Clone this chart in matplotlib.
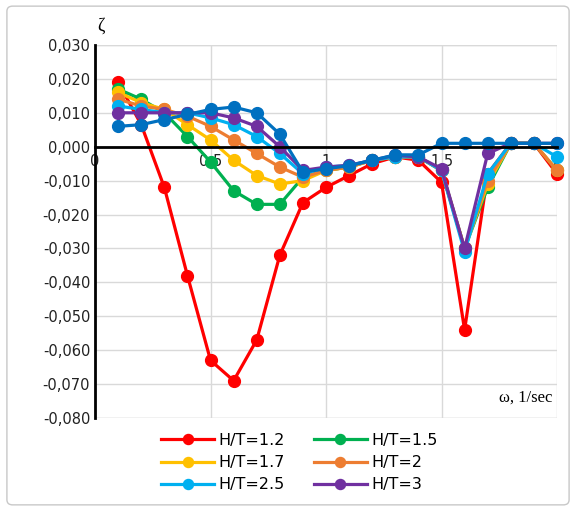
import numpy as np
import matplotlib.pyplot as plt
from matplotlib.patches import FancyBboxPatch

# frequencies, 1/sec
w = [0.1, 0.2, 0.3, 0.4, 0.5, 0.6, 0.7, 0.8, 0.9, 1.0,
     1.1, 1.2, 1.3, 1.4, 1.5, 1.6, 1.7, 1.8, 1.9, 2.0]

z_12 = [0.019, 0.0065, -0.012, -0.038, -0.063, -0.069, -0.057, -0.032, -0.0165, -0.012,
        -0.0085, -0.005, -0.003, -0.004, -0.0105, -0.054, -0.008, 0.001, 0.001, -0.008]
z_15 = [0.017, 0.014, 0.010, 0.003, -0.0045, -0.013, -0.017, -0.017, -0.009, -0.007,
        -0.006, -0.004, -0.003, -0.003, -0.007, -0.030, -0.012, 0.001, 0.001, -0.007]
z_17 = [0.016, 0.013, 0.011, 0.0065, 0.002, -0.004, -0.0085, -0.011, -0.010, -0.007,
        -0.006, -0.004, -0.003, -0.003, -0.007, -0.030, -0.011, 0.001, 0.001, -0.007]
z_2 = [0.014, 0.012, 0.011, 0.009, 0.006, 0.002, -0.002, -0.006, -0.009, -0.007,
       -0.006, -0.004, -0.003, -0.003, -0.007, -0.030, -0.010, 0.001, 0.001, -0.007]
z_25 = [0.012, 0.011, 0.010, 0.010, 0.0085, 0.0065, 0.003, -0.002, -0.008, -0.006,
        -0.0055, -0.004, -0.003, -0.003, -0.007, -0.031, -0.008, 0.001, 0.001, -0.003]
z_3 = [0.010, 0.010, 0.010, 0.010, 0.010, 0.0085, 0.006, 0.000, -0.007, -0.006,
       -0.0055, -0.004, -0.0025, -0.003, -0.0065, -0.030, -0.002, 0.001, 0.001, 0.001]
z_x = [0.006, 0.0065, 0.008, 0.0095, 0.011, 0.0117, 0.010, 0.0037, -0.0075, -0.0065,
       -0.0056, -0.004, -0.0024, -0.0024, 0.001, 0.001, 0.001, 0.001, 0.001, 0.001]

series = [(z_12, '#FF0000', 'H/T=1.2'),
          (z_15, '#00B050', 'H/T=1.5'),
          (z_17, '#FFC000', 'H/T=1.7'),
          (z_2, '#ED7D31', 'H/T=2'),
          (z_25, '#00B0F0', 'H/T=2.5'),
          (z_3, '#7030A0', 'H/T=3'),
          (z_x, '#0070C0', None)]

fig = plt.figure(figsize=(5.76, 5.11), dpi=100)
ax = fig.add_axes([0.165, 0.182, 0.802, 0.730])

# chart border
fig.patches.append(FancyBboxPatch((0.012, 0.012), 0.976, 0.976, boxstyle='round,pad=0,rounding_size=0.01',
                                  transform=fig.transFigure, fill=False, edgecolor='#C8C8C8', lw=1))

lines = []
for z, c, lab in series:
    l, = ax.plot(w, z, '-o', color=c, lw=2.3, markersize=8.5, label=lab, clip_on=False)
    if lab:
        lines.append(l)

ax.set_xlim(0, 2)
ax.set_ylim(-0.080, 0.030)
ax.set_xticks(np.arange(0, 2.01, 0.5))
ax.set_yticks(np.arange(-0.08, 0.0301, 0.01))
ax.set_xticklabels(['0', '0,5', '1', '1,5', '2'])
ax.set_yticklabels(['{:.3f}'.format(v).replace('.', ',').replace('-0,000', '0,000') for v in np.arange(-0.08, 0.0301, 0.01)])
ax.tick_params(labelsize=10.5, length=0, colors='#222222')
ax.tick_params(axis='x', pad=5)

ax.grid(True, color='#D9D9D9', lw=1)
ax.set_axisbelow(True)
for s in ['top', 'right']:
    ax.spines[s].set_visible(False)
ax.spines['bottom'].set_position(('data', 0))
ax.spines['bottom'].set_linewidth(2)
ax.spines['left'].set_linewidth(2)
ax.axhline(-0.080, color='#D9D9D9', lw=1, zorder=0)
ax.axhline(0.030, color='#D9D9D9', lw=1, zorder=0)

ax.text(0.01, 0.033, 'ζ', fontsize=13, family='Liberation Serif', va='bottom')
ax.text(1.98, -0.0765, 'ω, 1/sec', fontsize=12, family='Liberation Serif', ha='right', va='bottom')

# row-wise order like the original legend
order = [0, 2, 4, 1, 3, 5]
fig.legend(handles=[lines[i] for i in order], loc='upper center', bbox_to_anchor=(0.52, 0.165), ncol=2,
           frameon=False, fontsize=11.5, handlelength=3.3, columnspacing=1.8,
           labelspacing=0.45, handletextpad=0.3, markerscale=0.85, borderaxespad=0)

plt.savefig('out.png', dpi=100)
